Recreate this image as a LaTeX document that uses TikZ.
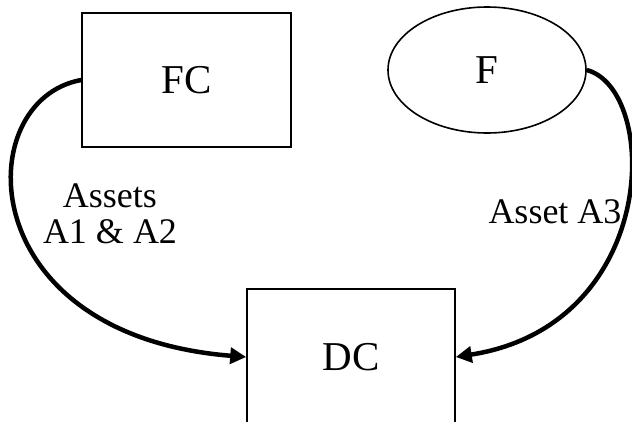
\documentclass[tikz,border=0pt]{standalone}
\usepackage{fontspec}
\setmainfont{Liberation Serif}
\usetikzlibrary{arrows.meta,shapes.geometric}
\begin{document}
\begin{tikzpicture}[x=1pt,y=-1pt,
    box/.style={draw=black, line width=1.6pt, inner sep=0pt, font=\fontsize{41}{48}\selectfont},
    flow/.style={line width=4.5pt, -{Triangle[length=16pt,width=16pt]}},
    lbl/.style={font=\fontsize{36}{42}\selectfont, align=center}]
    \useasboundingbox (0,0) rectangle (632,421);
    \clip (0,0) rectangle (632,421);

    \node [box, rectangle, minimum width=209pt, minimum height=134pt] (FC) at (186.5,80) {FC};
    \node [box, ellipse, minimum width=198pt, minimum height=126pt] (F) at (487,70) {F};
    \node [box, rectangle, minimum width=208pt, minimum height=136pt] (DC) at (351,357) {DC};

    \draw[flow] (FC.west) .. controls (-30,100) and (-30,335) .. (DC.west);
    \draw[flow] (F.east) .. controls (660,90) and (660,325) .. (DC.east);

    \node [lbl] (AA) at (110,214) {Assets\\[-6pt]A1 \& A2};
    \node [lbl] (AB) at (555,212) {Asset A3};
\end{tikzpicture}
\end{document}
